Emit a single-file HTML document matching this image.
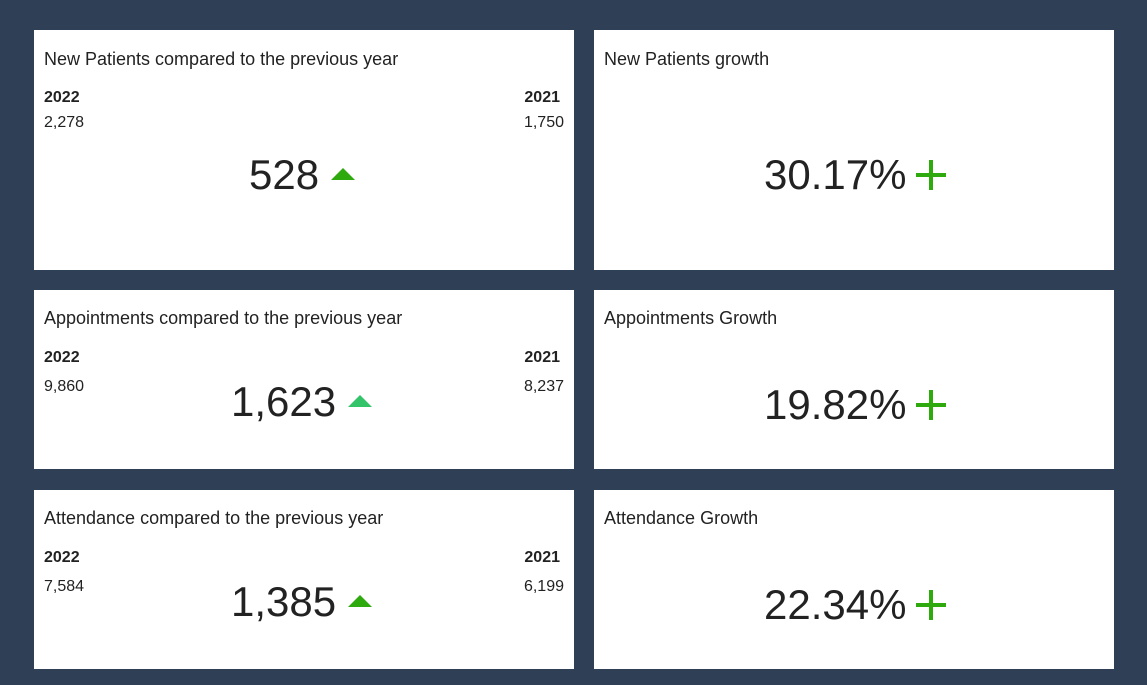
<!DOCTYPE html>
<html><head><meta charset="utf-8"><style>
body{margin:0;width:1147px;height:685px;background:#2f3f55;font-family:"Liberation Sans",sans-serif;color:#222;position:relative;overflow:hidden}
.card{position:absolute;background:#fff}
.t{position:absolute;left:10px;font-size:18px;color:#222}
.y{position:absolute;font-size:16px;font-weight:bold}
.v{position:absolute;font-size:16px}
.big{position:absolute;font-size:42px;line-height:42px;white-space:nowrap}
.tri{display:inline-block;width:0;height:0;border-left:12px solid transparent;border-right:12px solid transparent;border-bottom:12px solid #2eaa0e;vertical-align:middle;margin-left:12px;position:relative;top:-4px}
.plus{display:inline-block;position:relative;width:30px;height:30px;margin-left:10px;vertical-align:middle;top:-3px}
.plus:before,.plus:after{content:"";position:absolute;background:#2eaa0e}
.plus:before{left:13px;top:0;width:4px;height:30px}
.plus:after{top:13px;left:0;height:4px;width:30px}
</style></head><body>
<div class="card" style="left:34px;top:30px;width:540px;height:240px">
<div class="t" style="top:19px">New Patients compared to the previous year</div>
<div class="y" style="left:10px;top:59px">2022</div>
<div class="v" style="left:10px;top:84px">2,278</div>
<div class="y" style="right:14px;top:59px">2021</div>
<div class="v" style="right:10px;top:84px">1,750</div>
<div class="big" style="left:215px;top:124px">528<span class="tri"></span></div>
</div>
<div class="card" style="left:594px;top:30px;width:520px;height:240px">
<div class="t" style="top:19px">New Patients growth</div>
<div class="big" style="left:170px;top:124px">30.17%<span class="plus"></span></div>
</div>
<div class="card" style="left:34px;top:290px;width:540px;height:179px">
<div class="t" style="top:18px">Appointments compared to the previous year</div>
<div class="y" style="left:10px;top:59px">2022</div>
<div class="v" style="left:10px;top:88px">9,860</div>
<div class="y" style="right:14px;top:59px">2021</div>
<div class="v" style="right:10px;top:88px">8,237</div>
<div class="big" style="left:197px;top:91px">1,623<span class="tri" style="border-bottom-color:#33c46a"></span></div>
</div>
<div class="card" style="left:594px;top:290px;width:520px;height:179px">
<div class="t" style="top:18px">Appointments Growth</div>
<div class="big" style="left:170px;top:94px">19.82%<span class="plus"></span></div>
</div>
<div class="card" style="left:34px;top:490px;width:540px;height:179px">
<div class="t" style="top:18px">Attendance compared to the previous year</div>
<div class="y" style="left:10px;top:59px">2022</div>
<div class="v" style="left:10px;top:88px">7,584</div>
<div class="y" style="right:14px;top:59px">2021</div>
<div class="v" style="right:10px;top:88px">6,199</div>
<div class="big" style="left:197px;top:91px">1,385<span class="tri"></span></div>
</div>
<div class="card" style="left:594px;top:490px;width:520px;height:179px">
<div class="t" style="top:18px">Attendance Growth</div>
<div class="big" style="left:170px;top:94px">22.34%<span class="plus"></span></div>
</div>
</body></html>
